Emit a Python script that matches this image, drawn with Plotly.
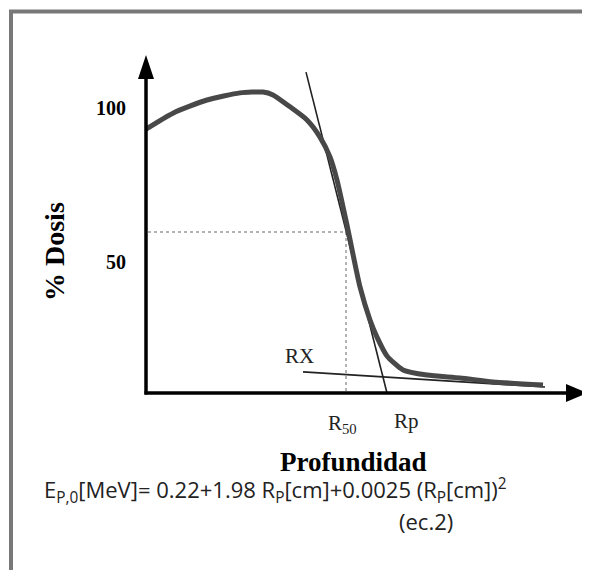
import plotly.graph_objects as go

# ---- data (depth in cm, dose in %) ----
depth_cm = [0.0, 0.675, 1.525, 2.35, 2.925, 3.175, 3.6, 4.025, 4.35, 4.6, 4.775, 5.025, 5.35,
            5.6, 5.775, 6.025, 6.425, 7.025, 7.85, 8.675, 9.925]
dose_pct = [92.6, 98.2, 102.8, 105.3, 105.6, 104.6, 100.4, 95.8, 89.8, 82.8, 74.7, 58.9, 37.2,
            25.6, 19.6, 13.0, 8.1, 6.3, 5.3, 3.9, 2.8]

tangent_depth = [4.0, 6.025]
tangent_dose = [112.6, 0.0]

rx_depth = [3.925, 9.975]
rx_dose = [7.4, 2.1]

r50_depth = 5.0
r50_dose = 56.5
rp_depth = 6.0

ytick_vals = [46, 100]
ytick_text = ["50", "100"]

# page offset (browser body margin) and figure size
OFF = 8
W, H = 590, 570
X0PX, Y0PX, KX, KY = 146 - OFF, 393 - OFF, 40.0, 2.85  # axis origin in figure pixels and scale


def px(x):
    return (x - OFF) / W


def py(y):
    return 1 - (y - OFF) / H


fig = go.Figure()

# dotted 50% guides
fig.add_trace(go.Scatter(x=[0.05, r50_depth, r50_depth], y=[r50_dose, r50_dose, 0],
                         mode="lines", line=dict(color="#9a9a9a", width=1.5, dash="dot"),
                         hoverinfo="skip"))
# RX tail line
fig.add_trace(go.Scatter(x=rx_depth, y=rx_dose, mode="lines",
                         line=dict(color="#222", width=1.6), hoverinfo="skip"))
# tangent line
fig.add_trace(go.Scatter(x=tangent_depth, y=tangent_dose, mode="lines",
                         line=dict(color="#222", width=1.6), hoverinfo="skip"))
# depth dose curve
fig.add_trace(go.Scatter(x=depth_cm, y=dose_pct, mode="lines",
                         line=dict(color="#484848", width=5, shape="spline", smoothing=0.6),
                         hoverinfo="skip"))

xr = [(0 - X0PX) / KX, (W - X0PX) / KX]
yr = [(Y0PX - H) / KY, (Y0PX - 0) / KY]

shapes = [
    # frame
    dict(type="line", xref="paper", yref="paper", x0=px(9), x1=px(W + OFF), y0=py(11.5), y1=py(11.5),
         line=dict(color="#787878", width=4)),
    dict(type="line", xref="paper", yref="paper", x0=px(11), x1=px(11), y0=py(10), y1=py(H + OFF),
         line=dict(color="#787878", width=4)),
    # y axis
    dict(type="line", xref="paper", yref="paper", x0=px(146), x1=px(146), y0=py(394.5), y1=py(72),
         line=dict(color="black", width=3.5)),
    dict(type="path", xref="paper", yref="paper",
         path=f"M {px(146)} {py(55)} L {px(138)} {py(79)} L {px(154)} {py(79)} Z",
         fillcolor="black", line=dict(color="black", width=0)),
    # x axis
    dict(type="line", xref="paper", yref="paper", x0=px(144.5), x1=px(572), y0=py(393), y1=py(393),
         line=dict(color="black", width=3.5)),
    dict(type="path", xref="paper", yref="paper",
         path=f"M {px(587)} {py(393)} L {px(566)} {py(384)} L {px(566)} {py(402)} Z",
         fillcolor="black", line=dict(color="black", width=0)),
]

serif = "Liberation Serif, Times New Roman, serif"
sans = "Open Sans, Noto Sans, sans-serif"

C = dict(showarrow=False, xanchor="center", yanchor="middle", borderpad=0)

ann = []
for v, t in zip(ytick_vals, ytick_text):
    ann.append(dict(x=-0.45, y=v, xref="x", yref="y", text=f"<b>{t}</b>", showarrow=False,
                    xanchor="right", yanchor="middle", font=dict(family=serif, size=20, color="black")))
ann += [
    dict(x=px(54), y=py(252), xref="paper", yref="paper", text="<b>% Dosis</b>", textangle=-90,
         font=dict(family=serif, size=28, color="black"), **C),
    dict(x=px(353), y=py(462), xref="paper", yref="paper", text="<b>Profundidad</b>",
         font=dict(family=serif, size=27, color="black"), **C),
    dict(x=px(299), y=py(356), xref="paper", yref="paper", text="RX",
         font=dict(family=serif, size=21, color="#222"), **C),
    dict(x=r50_depth - 0.08, y=py(424), xref="x", yref="paper", text="R<sub>50</sub>",
         font=dict(family=serif, size=21, color="#222"), **C),
    dict(x=rp_depth + 0.5, y=py(421), xref="x", yref="paper", text="Rp",
         font=dict(family=serif, size=21, color="#222"), **C),
    dict(x=px(275), y=py(490), xref="paper", yref="paper",
         text="E<sub>P,0</sub>[MeV]= 0.22+1.98 R<sub>P</sub>[cm]+0.0025 (R<sub>P</sub>[cm])<sup>2</sup>",
         font=dict(family=sans, size=22, color="#222"), **C),
    dict(x=px(426), y=py(521), xref="paper", yref="paper", text="(ec.2)",
         font=dict(family=sans, size=22, color="#222"), **C),
]

fig.update_layout(
    width=W, height=H, margin=dict(l=0, r=0, t=0, b=0),
    paper_bgcolor="white", plot_bgcolor="white", showlegend=False,
    xaxis=dict(range=xr, visible=False, fixedrange=True),
    yaxis=dict(range=yr, visible=False, fixedrange=True),
    shapes=shapes, annotations=ann,
)

fig.write_html("out.html")
